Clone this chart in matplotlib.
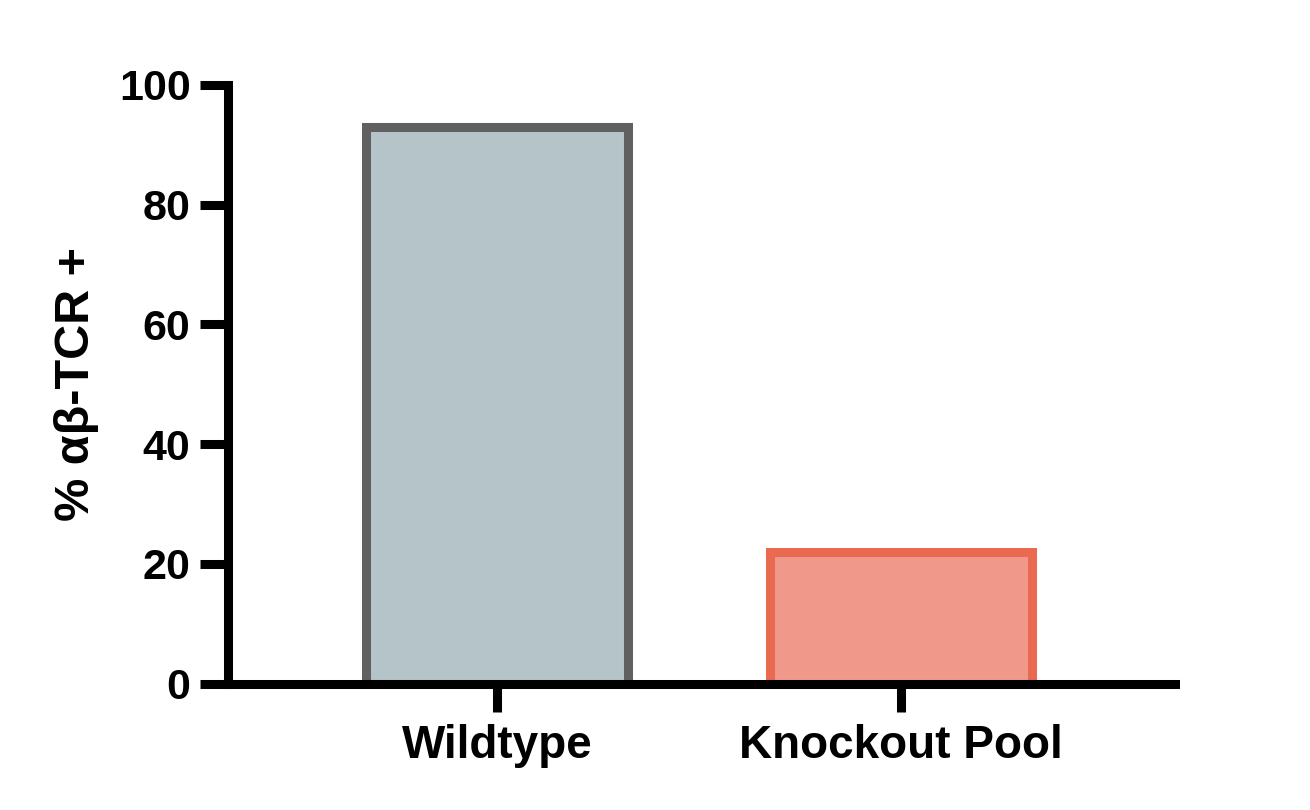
import numpy as np
import matplotlib
matplotlib.use('Agg')
import matplotlib.pyplot as plt

plt.rcParams['font.family'] = ['Liberation Sans', 'DejaVu Sans']
plt.rcParams['font.weight'] = 'bold'

# data
groups = ['Wildtype', 'Knockout Pool']
values = [92.9, 21.9]
fill_colors = ['#B5C4C8', '#F0998A']
edge_colors = ['#606060', '#E96A50']
yticks = [0, 20, 40, 60, 80, 100]

fig = plt.figure(figsize=(13.1, 8.1), dpi=100)
ax = fig.add_axes([228 / 1310, 1 - 683.5 / 810, (1175 - 228) / 1310, (683.5 - 85) / 810])

x = np.arange(len(groups))
ax.bar(x, values, width=0.647, color=fill_colors, edgecolor=edge_colors,
       linewidth=6.5, zorder=2)

ax.set_xlim(-0.666, 1.678)
ax.set_ylim(0, 100)
ax.set_yticks(yticks)
ax.set_xticks(x)
ax.set_xticklabels(groups, fontsize=33, fontweight='bold')
ax.set_yticklabels([str(t) for t in yticks], fontsize=31, fontweight='bold')

for side in ['top', 'right']:
    ax.spines[side].set_visible(False)
for side in ['left', 'bottom']:
    ax.spines[side].set_linewidth(6.5)
    ax.spines[side].set_capstyle('projecting')
    ax.spines[side].set_zorder(3)

ax.tick_params(axis='both', length=20, width=6.5, color='black')
ax.tick_params(axis='y', pad=7)
ax.tick_params(axis='x', pad=9)

ax.set_ylabel('% αβ-TCR +', fontsize=35, fontweight='bold', labelpad=14)

fig.savefig('out.png', dpi=100)
